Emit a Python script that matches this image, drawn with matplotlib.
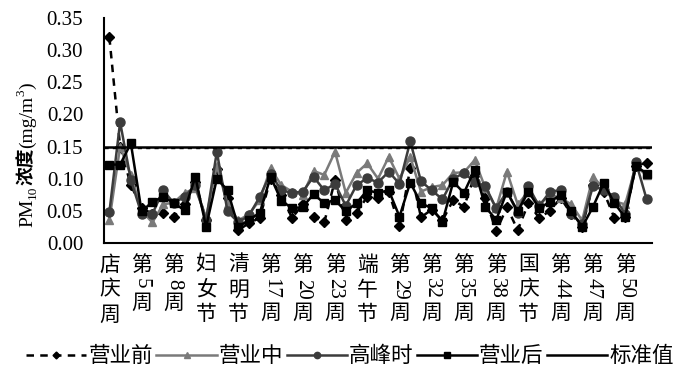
import re
import numpy as np
import matplotlib
matplotlib.use('Agg')
import matplotlib.pyplot as plt
from matplotlib.transforms import IdentityTransform, blended_transform_factory

plt.rcParams['font.family'] = ['Liberation Serif', 'Noto Sans CJK SC']

# week labels shown every 3rd point (point 0 = 店庆周)
tick_labels = ['店庆周', '第5周', '第8周', '妇女节', '清明节', '第17周', '第20周', '第23周',
               '端午节', '第29周', '第32周', '第35周', '第38周', '国庆节', '第44周', '第47周', '第50周']
tick_step = 3

before = [0.32, 0.15, 0.09, 0.055, 0.045, 0.046, 0.041, 0.06, 0.095, 0.035,
          0.115, 0.07, 0.02, 0.031, 0.039, 0.1, 0.075, 0.039, 0.06, 0.041,
          0.032, 0.098, 0.036, 0.047, 0.072, 0.07, 0.08, 0.026, 0.116, 0.04,
          0.052, 0.035, 0.067, 0.056, 0.105, 0.07, 0.018, 0.056, 0.02, 0.062,
          0.039, 0.05, 0.07, 0.045, 0.025, 0.09, 0.08, 0.039, 0.04, 0.12, 0.125]
during = [0.035, 0.15, 0.105, 0.05, 0.032, 0.06, 0.063, 0.078, 0.085, 0.04,
          0.12, 0.06, 0.035, 0.045, 0.067, 0.116, 0.09, 0.08, 0.075, 0.112,
          0.106, 0.142, 0.078, 0.109, 0.124, 0.1, 0.134, 0.1, 0.134, 0.08,
          0.087, 0.09, 0.109, 0.11, 0.129, 0.085, 0.054, 0.111, 0.06, 0.08,
          0.06, 0.075, 0.07, 0.06, 0.035, 0.103, 0.085, 0.065, 0.06, 0.12, 0.105]
peak = [0.048, 0.188, 0.098, 0.045, 0.045, 0.082, 0.062, 0.072, 0.09, 0.035,
        0.142, 0.049, 0.032, 0.043, 0.072, 0.108, 0.082, 0.078, 0.08, 0.103,
        0.082, 0.092, 0.058, 0.09, 0.101, 0.094, 0.111, 0.092, 0.158, 0.096,
        0.082, 0.068, 0.1, 0.109, 0.095, 0.088, 0.054, 0.08, 0.047, 0.088,
        0.057, 0.08, 0.082, 0.045, 0.03, 0.088, 0.083, 0.072, 0.045, 0.126, 0.068]
after = [0.122, 0.122, 0.155, 0.049, 0.064, 0.072, 0.062, 0.051, 0.103, 0.025,
         0.1, 0.082, 0.025, 0.036, 0.047, 0.103, 0.066, 0.054, 0.056, 0.076,
         0.062, 0.067, 0.049, 0.062, 0.082, 0.078, 0.082, 0.041, 0.094, 0.062,
         0.054, 0.033, 0.095, 0.078, 0.114, 0.056, 0.036, 0.08, 0.049, 0.08,
         0.054, 0.064, 0.075, 0.049, 0.025, 0.056, 0.093, 0.062, 0.04, 0.12, 0.108]
standard = 0.15
series_names = ['营业前', '营业中', '高峰时', '营业后', '标准值']

W, H = 700, 383
fig = plt.figure(figsize=(W / 100, H / 100), dpi=100)
ax = fig.add_axes([104 / W, 1 - 243 / H, 548 / W, 225 / H])

x = np.arange(len(before))
ax.plot(x, before, color='black', ls=(0, (3, 2.5)), lw=1.8, marker='D', ms=5, label=series_names[0])
ax.plot(x, during, color='#7a7a7a', lw=1.8, marker='^', ms=6, label=series_names[1])
ax.plot(x, peak, color='#3c3c3c', lw=1.8, marker='o', ms=6.5, label=series_names[2])
ax.plot(x, after, color='black', lw=1.8, marker='s', ms=5.5, label=series_names[3])
ax.axhline(standard, color='black', lw=1.8, label=series_names[4])
ax.axhline(standard - 0.0015, color='black', lw=1, ls=(0, (3, 3)))

ax.set_xlim(-0.5, len(before) - 0.5)
ax.set_ylim(0, 0.35)
yt = np.arange(0, 0.351, 0.05)
ax.set_yticks(yt)
ax.set_yticklabels(['%.2f' % v for v in yt], fontsize=15)
ax.tick_params(axis='y', length=0, pad=15)
ax.set_xticks([])
for s in ['top', 'right']:
    ax.spines[s].set_visible(False)
for s in ['left', 'bottom']:
    ax.spines[s].set_linewidth(1.5)

# stacked vertical tick labels, digits turned sideways
trans = blended_transform_factory(ax.transData, IdentityTransform())
for k, lab in enumerate(tick_labels):
    xi = k * tick_step
    y = H - 252
    for piece in re.findall(r'\d+|.', lab):
        if piece.isdigit():
            w = 10.4 * len(piece)
            ax.text(xi, y - 1.5 - w / 2, piece, transform=trans, rotation=-90,
                    ha='center', va='center', fontsize=15, clip_on=False)
            y -= w + 3
        else:
            ax.text(xi, y - 12.5, piece, transform=trans, ha='center', va='center',
                    fontsize=15, family='Noto Sans CJK SC', clip_on=False)
            y -= 25

# y label built from pieces (rotated), PM_10 浓度 (mg/m^3)
fig.canvas.draw()
rend = fig.canvas.get_renderer()
pieces = [('PM', 14, 0, 'Liberation Serif'), ('10', 9.5, 4, 'Liberation Serif'),
          ('浓度', 13.5, 0, 'Noto Sans CJK SC'), ('(mg/m', 14, 0, 'Liberation Serif'),
          ('3', 9.5, -8, 'Liberation Serif'), (')', 14, 0, 'Liberation Serif')]
ycur = H - 227
for txt, size, dx, fam in pieces:
    t = fig.text(32 + dx, ycur, txt, transform=IdentityTransform(), rotation=90,
                 rotation_mode='anchor', ha='left', va='baseline', fontsize=size,
                 family=fam, weight='bold' if fam.startswith('Noto') else 'normal')
    bb = t.get_window_extent(rend)
    ycur += bb.height

handles, labels = ax.get_legend_handles_labels()
fig.legend(handles[:5], labels[:5], loc='lower center', bbox_to_anchor=(0.5, -0.01), ncol=5,
           frameon=False, prop={'family': 'Noto Sans CJK SC', 'size': 15.5},
           handlelength=2.8, columnspacing=0.15, handletextpad=0.1, markerscale=0.7)

fig.savefig('out.png', dpi=100)
